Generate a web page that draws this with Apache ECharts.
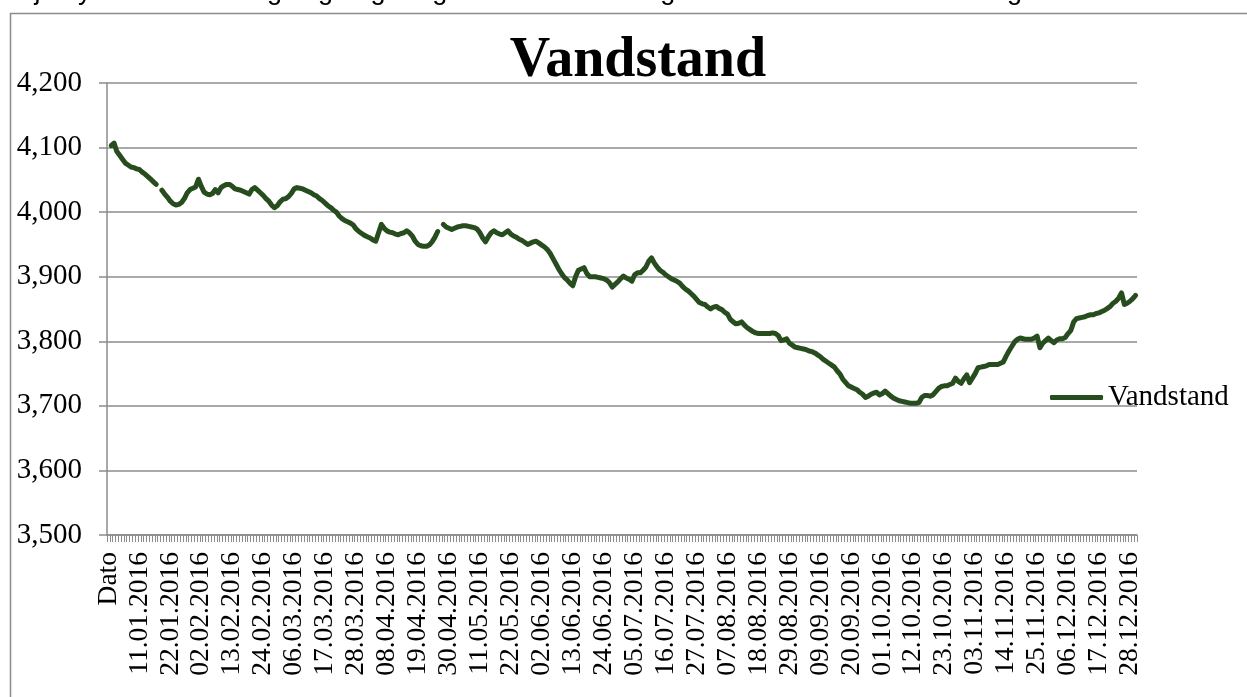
<!DOCTYPE html>
<html>
<head>
<meta charset="utf-8">
<script src="https://cdn.jsdelivr.net/npm/echarts@6/dist/echarts.min.js"></script>
<style>
html,body{margin:0;padding:0;background:#fff;}
#chart{width:1247px;height:697px;}
</style>
</head>
<body>
<div id="chart"></div>
<script>
// ---- data ----
const headerCategory = "Dato";
const startDate = [2016, 1, 1];   // first date label (year, month, day)
const dayCount = 365;
const yTicks = [3500, 3600, 3700, 3800, 3900, 4000, 4100, 4200];
const seriesName = "Vandstand";
const topNote = "Miljøstyrelsens overvågning følger også vandstanden og har for 2016 leveret denne graf";

// daily water level values (01.01.2016 onwards), null = missing reading
const vandstand = [
  4103, 4107, 4094, 4088, 4082, 4076, 4073, 4070, 4069, 4067,
  4066, 4062, 4059, 4055, 4051, 4047, 4043, null, 4034, 4028,
  4023, 4017, 4013, 4011, 4012, 4015, 4021, 4030, 4035, 4037,
  4039, 4051, 4040, 4031, 4028, 4027, 4029, 4035, 4030, 4038,
  4041, 4043, 4043, 4040, 4036, 4035, 4034, 4032, 4030, 4028,
  4035, 4038, 4034, 4030, 4026, 4021, 4017, 4011, 4007, 4010,
  4016, 4020, 4021, 4024, 4029, 4036, 4038, 4037, 4036, 4034,
  4032, 4030, 4027, 4025, 4021, 4018, 4014, 4010, 4007, 4003,
  4000, 3994, 3990, 3987, 3985, 3983, 3980, 3974, 3970, 3967,
  3964, 3962, 3960, 3957, 3955, 3968, 3981, 3975, 3971, 3969,
  3968, 3966, 3965, 3967, 3968, 3971, 3968, 3963, 3955, 3950,
  3948, 3947, 3947, 3949, 3954, 3961, 3970, null, 3981, 3977,
  3975, 3973, 3975, 3977, 3978, 3979, 3979, 3978, 3977, 3976,
  3974, 3968, 3960, 3954, 3962, 3968, 3971, 3968, 3966, 3965,
  3968, 3971, 3966, 3963, 3961, 3958, 3956, 3953, 3950, 3952,
  3954, 3955, 3952, 3949, 3946, 3942, 3936, 3928, 3920, 3912,
  3905, 3899, 3895, 3890, 3886, 3900, 3910, 3912, 3914, 3905,
  3900, 3900, 3900, 3899, 3898, 3897, 3895, 3891, 3884, 3888,
  3892, 3897, 3901, 3898, 3896, 3893, 3903, 3906, 3906, 3910,
  3915, 3924, 3929, 3921, 3915, 3910, 3907, 3903, 3900, 3897,
  3895, 3893, 3890, 3885, 3881, 3878, 3874, 3870, 3865, 3860,
  3858, 3857, 3853, 3850, 3853, 3854, 3851, 3849, 3845, 3842,
  3834, 3830, 3827, 3828, 3830, 3825, 3821, 3818, 3815, 3813,
  3812, 3812, 3812, 3812, 3812, 3813, 3812, 3809, 3801, 3802,
  3804, 3797, 3794, 3791, 3790, 3789, 3788, 3787, 3785, 3784,
  3782, 3779, 3776, 3772, 3769, 3766, 3763, 3760, 3754, 3749,
  3741, 3736, 3731, 3729, 3727, 3725, 3721, 3718, 3713, 3715,
  3718, 3720, 3721, 3717, 3719, 3723, 3719, 3715, 3712, 3710,
  3708, 3707, 3706, 3705, 3704, 3704, 3704, 3705, 3713, 3716,
  3716, 3715, 3717, 3722, 3727, 3730, 3731, 3731, 3733, 3735,
  3743, 3738, 3735, 3742, 3748, 3736, 3743, 3750, 3759, 3760,
  3761, 3762, 3764, 3764, 3764, 3764, 3766, 3768, 3777, 3785,
  3792, 3799, 3803, 3805, 3804, 3803, 3803, 3803, 3805, 3808,
  3790, 3797, 3801, 3805, 3801, 3798, 3802, 3804, 3804, 3806,
  3812, 3817, 3830, 3835, 3836, 3837, 3838, 3840, 3841, 3841,
  3843, 3844, 3846, 3848, 3851, 3854, 3859, 3862, 3867, 3875,
  3857, 3859, 3862, 3866, 3871
];

// ---- category labels ----
function pad(n){ return (n < 10 ? "0" : "") + n; }
const categories = [headerCategory];
for (let i = 0; i < dayCount; i++) {
  const dt = new Date(startDate[0], startDate[1] - 1, startDate[2] + i);
  categories.push(pad(dt.getDate()) + "." + pad(dt.getMonth() + 1) + "." + dt.getFullYear());
}
const seriesData = [null].concat(vandstand);

const serif = '"Liberation Serif", "Times New Roman", serif';
const lineColor = '#274D1E';
const gridColor = '#8C8C8C';

const chart = echarts.init(document.getElementById('chart'), null, {renderer: 'canvas'});
chart.setOption({
  backgroundColor: '#ffffff',
  animation: false,
  title: {
    text: 'Vandstand',
    left: 633,
    top: 29,
    textAlign: 'center',
    textStyle: {fontFamily: serif, fontWeight: 'bold', fontSize: 56, color: '#000'}
  },
  legend: {
    data: [seriesName],
    left: 1045,
    top: 378,
    icon: 'roundRect',
    itemWidth: 53,
    itemHeight: 5,
    itemGap: 5,
    textStyle: {fontFamily: serif, fontSize: 29, color: '#000', padding: [0,0,0,0]}
  },
  grid: {left: 107, right: 110, top: 83, bottom: 162, containLabel: false},
  xAxis: {
    type: 'category',
    data: categories,
    boundaryGap: true,
    axisLine: {lineStyle: {color: gridColor, width: 1.5}},
    axisTick: {show: true, interval: 0, length: 7, lineStyle: {color: gridColor, width: 1}},
    axisLabel: {
      interval: 10,
      rotate: 90,
      margin: 17,
      fontFamily: serif,
      fontSize: 27.5,
      color: '#000'
    },
    splitLine: {show: false}
  },
  yAxis: {
    type: 'value',
    min: yTicks[0],
    max: yTicks[yTicks.length - 1],
    interval: yTicks[1] - yTicks[0],
    axisLine: {show: true, lineStyle: {color: gridColor, width: 1.5}},
    axisTick: {show: true, length: 8, lineStyle: {color: gridColor, width: 1.5}},
    axisLabel: {
      margin: 25,
      fontFamily: serif,
      fontSize: 29,
      color: '#000',
      formatter: function (v) { return v.toLocaleString('en-US'); }
    },
    splitLine: {show: true, lineStyle: {color: gridColor, width: 1.5}}
  },
  series: [{
    name: seriesName,
    type: 'line',
    data: seriesData,
    showSymbol: false,
    symbol: 'none',
    connectNulls: false,
    color: lineColor,
    lineStyle: {color: lineColor, width: 5, cap: 'round', join: 'round'},
    itemStyle: {color: lineColor}
  }],
  graphic: [
    {
      type: 'rect',
      left: 8, top: 11,
      shape: {width: 1300, height: 720},
      style: {fill: 'none', stroke: '#8C8C8C', lineWidth: 1.5},
      silent: true, z: -1
    },
    {
      type: 'text',
      left: 0, top: -22,
      style: {
        text: topNote,
        font: '27px "Liberation Sans", Arial, sans-serif',
        fill: '#000'
      },
      silent: true
    }
  ]
});
</script>
</body>
</html>
